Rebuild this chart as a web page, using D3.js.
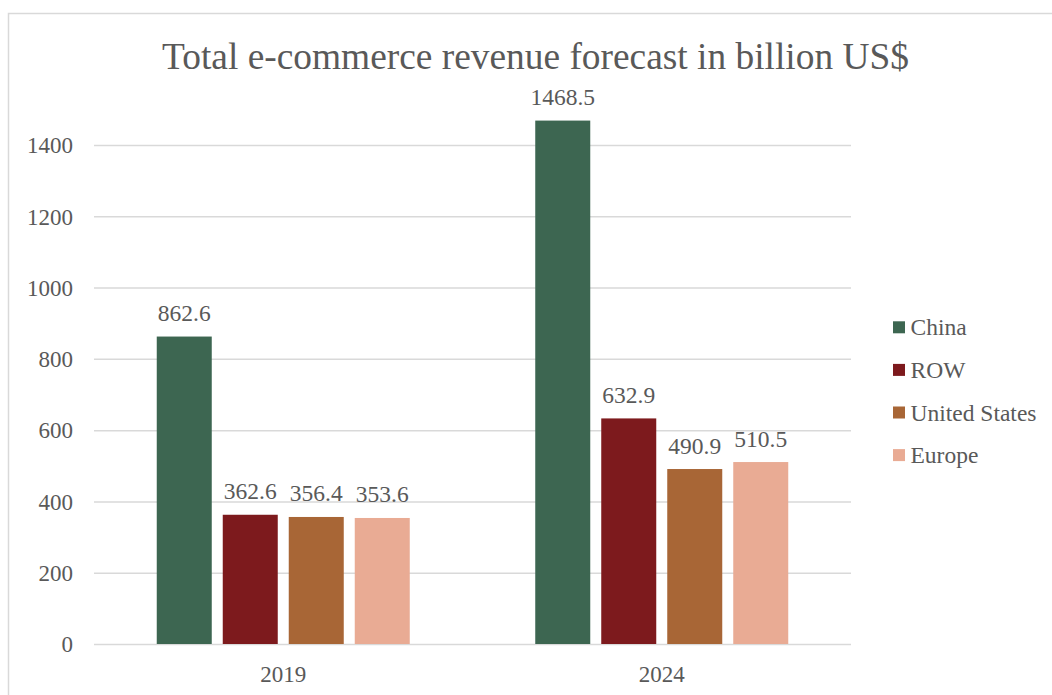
<!DOCTYPE html>
<html>
<head>
<meta charset="utf-8">
<script src="https://cdn.jsdelivr.net/npm/d3@7"></script>
<style>
  html, body { margin: 0; padding: 0; background: #ffffff; }
  #chart text { font-family: "Liberation Serif", "Times New Roman", Tinos, serif !important; }
</style>
</head>
<body>
<svg id="chart" width="1052" height="695" font-family="Liberation Serif"></svg>
<script>
// Forecast data (billion US$)
const years = ["2019", "2024"];
const regions = ["China", "ROW", "United States", "Europe"];
const china = [862.6, 1468.5];
const row = [362.6, 632.9];
const unitedStates = [356.4, 490.9];
const europe = [353.6, 510.5];
const yTicks = [0, 200, 400, 600, 800, 1000, 1200, 1400];
const colors = ["#3d6651", "#7d1a1d", "#a86636", "#e9ab94"];

const seriesValues = [china, row, unitedStates, europe];

const TEXT_COLOR = "#595959";
const LABEL_SIZE = 23.5;

const svg = d3.select("#chart");

// chart frame
svg.append("rect")
  .attr("x", 8.5).attr("y", 13.5)
  .attr("width", 1100).attr("height", 720)
  .attr("fill", "#ffffff")
  .attr("stroke", "#d9d9d9").attr("stroke-width", 1.5);

const plot = { left: 94, right: 851, top: 145, bottom: 644 };

const x0 = d3.scaleBand()
  .domain(years)
  .range([plot.left, plot.right]);

const groupWidth = 253;
const x1 = d3.scaleBand()
  .domain(regions)
  .range([0, groupWidth])
  .paddingInner(0.1667)
  .paddingOuter(0);

const y = d3.scaleLinear()
  .domain([0, 1400])
  .range([plot.bottom, plot.top]);

// gridlines
svg.append("g")
  .selectAll("line")
  .data(yTicks)
  .join("line")
  .attr("x1", plot.left).attr("x2", plot.right)
  .attr("y1", d => y(d) + 0.5).attr("y2", d => y(d) + 0.5)
  .attr("stroke", "#d9d9d9").attr("stroke-width", 1.5);

// y axis labels
const yAxis = d3.axisLeft(y).tickValues(yTicks).tickFormat(d3.format("d")).tickSize(0).tickPadding(0);
const yg = svg.append("g")
  .attr("transform", `translate(${plot.left - 21},0)`)
  .call(yAxis)
  .attr("font-family", "Liberation Serif")
  .attr("font-size", 23);
yg.select(".domain").remove();
yg.selectAll("text")
  .attr("fill", TEXT_COLOR)
  .attr("dy", "0.34em");

// x axis labels
const xAxis = d3.axisBottom(x0).tickSize(0).tickPadding(0);
const xg = svg.append("g")
  .attr("transform", `translate(0,${plot.bottom + 21.5})`)
  .call(xAxis)
  .attr("font-family", "Liberation Serif")
  .attr("font-size", 23);
xg.select(".domain").remove();
xg.selectAll("text")
  .attr("fill", TEXT_COLOR)
  .attr("dy", "0.71em");

// bars
const groups = svg.append("g")
  .selectAll("g")
  .data(years)
  .join("g")
  .attr("transform", d => `translate(${x0(d) + (x0.bandwidth() - groupWidth) / 2},0)`);

groups.each(function(year, yi) {
  const g = d3.select(this);
  const data = regions.map((r, ri) => ({ region: r, value: seriesValues[ri][yi], color: colors[ri] }));
  g.selectAll("rect")
    .data(data)
    .join("rect")
    .attr("x", d => x1(d.region))
    .attr("y", d => y(d.value))
    .attr("width", x1.bandwidth())
    .attr("height", d => y(0) - y(d.value))
    .attr("fill", d => d.color);
  g.selectAll("text.val")
    .data(data)
    .join("text")
    .attr("class", "val")
    .attr("x", d => x1(d.region) + x1.bandwidth() / 2)
    .attr("y", d => y(d.value) - 15.5)
    .attr("text-anchor", "middle")
    .attr("font-size", LABEL_SIZE)
    .attr("fill", TEXT_COLOR)
    .text(d => d.value.toFixed(1));
});

// title
svg.append("text")
  .attr("x", 535.5).attr("y", 69)
  .attr("text-anchor", "middle")
  .attr("font-size", 37.4)
  .attr("fill", TEXT_COLOR)
  .text("Total e-commerce revenue forecast in billion US$");

// legend
const legend = svg.append("g")
  .selectAll("g")
  .data(regions)
  .join("g")
  .attr("transform", (d, i) => `translate(893,${327.3 + i * 42.6})`);
legend.append("rect")
  .attr("x", 0).attr("y", -6)
  .attr("width", 12).attr("height", 12)
  .attr("fill", (d, i) => colors[i]);
legend.append("text")
  .attr("x", 17.5).attr("y", 0)
  .attr("dy", "0.34em")
  .attr("font-size", LABEL_SIZE)
  .attr("fill", TEXT_COLOR)
  .text(d => d);
</script>
</body>
</html>
